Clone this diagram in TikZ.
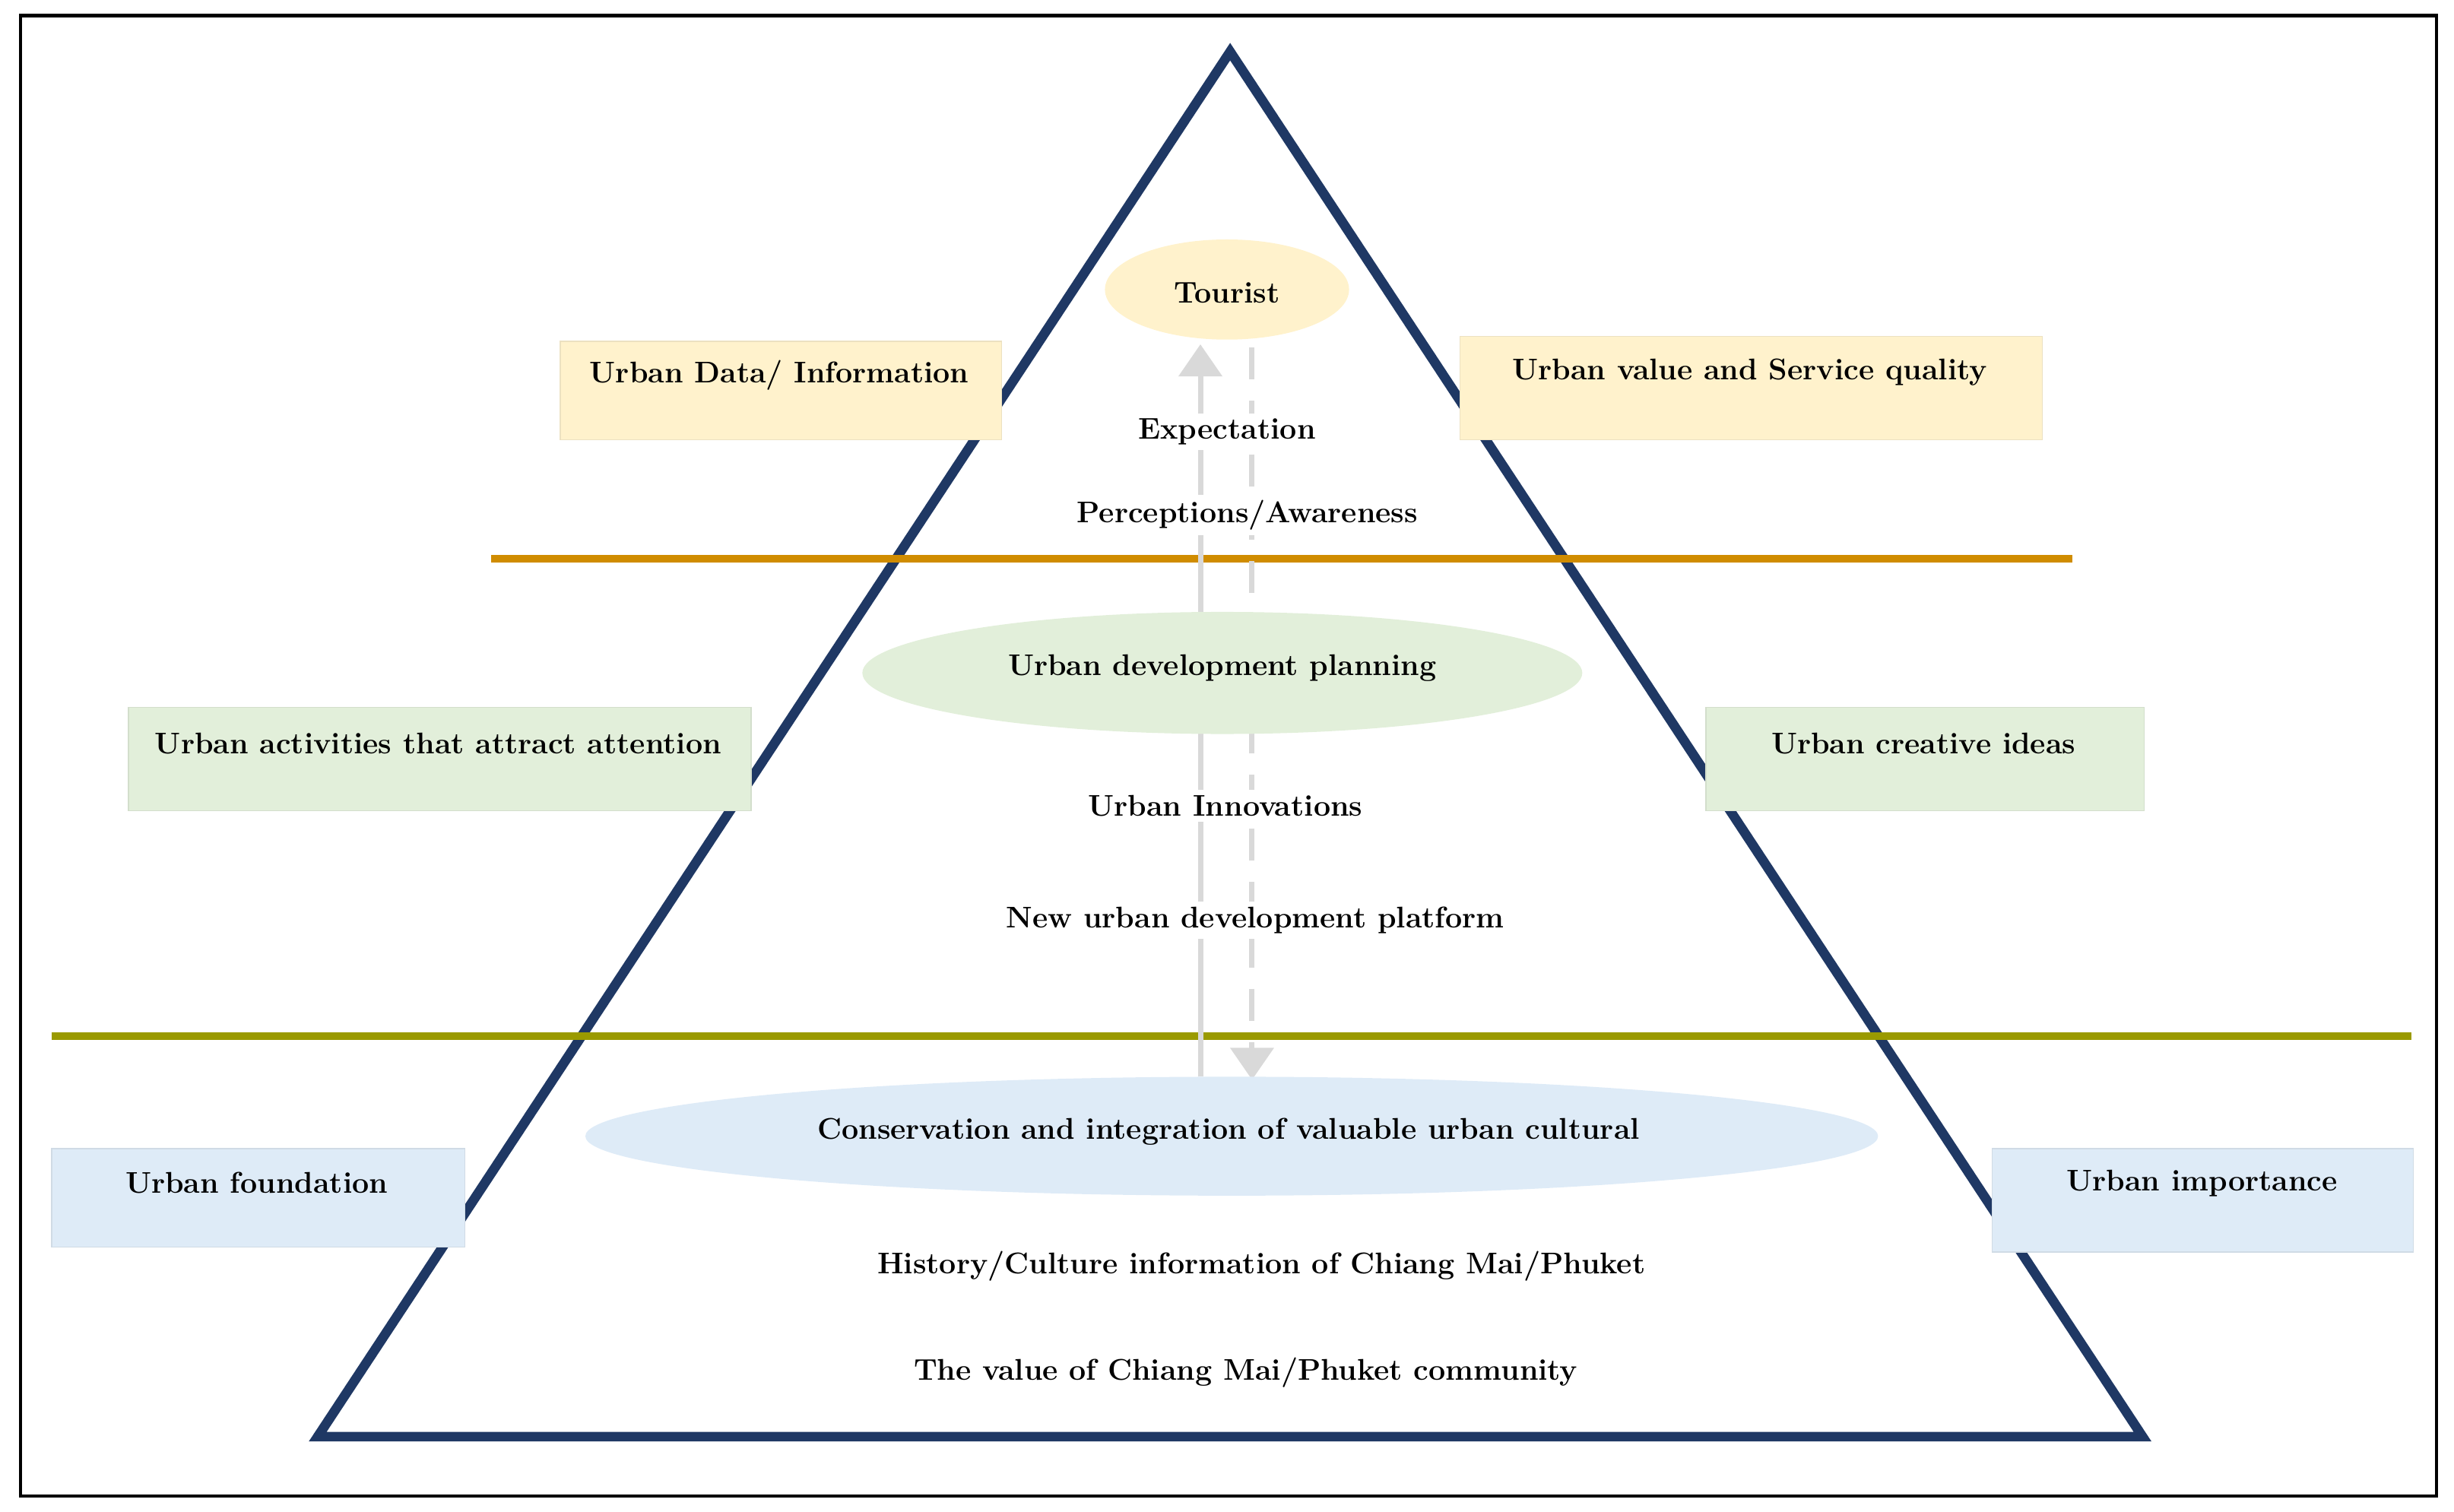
\documentclass[tikz,border=0pt]{standalone}
\usetikzlibrary{arrows.meta,shapes.geometric}
\definecolor{navy}{HTML}{1F3864}
\definecolor{ochre}{HTML}{D08C00}
\definecolor{olive}{HTML}{9A9A00}
\definecolor{pyellow}{HTML}{FFF2CC}
\definecolor{pgreen}{HTML}{E2EFDA}
\definecolor{pblue}{HTML}{DEEBF7}
\begin{document}
\begin{tikzpicture}[x=0.020587cm, y=-0.020587cm]

    % Define styles
    \tikzset{
        lbl/.style = {font=\fontsize{11.2}{13}\selectfont\bfseries, inner sep=2pt},
        box/.style = {rectangle, draw=#1!85!gray, fill=#1, line width=0.4pt},
        blob/.style = {ellipse, fill=#1, inner sep=0pt},
        flow/.style = {draw=gray!30, line width=2pt, -{Triangle[length=12pt,width=16pt]}}
    }

    \useasboundingbox (0,0) rectangle (1568,966);
    \draw [line width=1.2pt] (13,10) rectangle (1557,956);

    % Pyramid
    \coordinate (apex) at (786,33);
    \coordinate (bl) at (203,918);
    \coordinate (br) at (1369,918);
    \draw [navy, line width=3.6pt, line join=miter] (apex) -- (br) -- (bl) -- cycle;

    % Level lines
    \coordinate (o1) at (314,357); \coordinate (o2) at (1324,357);
    \coordinate (g1) at (33,662); \coordinate (g2) at (1541,662);
    \draw [ochre, line width=3pt] (o1) -- (o2);
    \draw [olive, line width=3pt] (g1) -- (g2);

    % Flow arrows
    \coordinate (up0) at (767,688); \coordinate (up1) at (767,220);
    \coordinate (dn0) at (800,222); \coordinate (dn1) at (800,690);
    \path [flow] (up0) -- (up1);
    \path [flow, dash pattern=on 12pt off 8pt] (dn0) -- (dn1);

    % Ellipses
    \node [blob=pyellow, minimum width=156*0.020587cm, minimum height=64*0.020587cm] (tourist) at (784,185) {};
    \node [blob=pgreen, minimum width=460*0.020587cm, minimum height=78*0.020587cm] (plan) at (781,430) {};
    \node [blob=pblue, minimum width=826*0.020587cm, minimum height=76*0.020587cm] (cons) at (787,726) {};

    % Side boxes
    \draw [box=pyellow] (358,218) rectangle (640,281);
    \draw [box=pyellow] (933,215) rectangle (1305,281);
    \draw [box=pgreen] (82,452) rectangle (480,518);
    \draw [box=pgreen] (1090,452) rectangle (1370,518);
    \draw [box=pblue] (33,734) rectangle (297,797);
    \draw [box=pblue] (1273,734) rectangle (1542,800);

    % Labels
    \node [lbl] (tlbl) at (784,187) {Tourist};
    \node [lbl] (data) at (498,240) {Urban Data/ Information};
    \node [lbl] (value) at (1118,238) {Urban value and Service quality};
    \node [lbl, fill=white] (expect) at (784,276) {Expectation};
    \node [lbl, fill=white] (percep) at (797,329) {Perceptions/Awareness};
    \node [lbl] (plbl) at (781,427) {Urban development planning};
    \node [lbl] (activ) at (280,475) {Urban activities that attract attention};
    \node [lbl] (creat) at (1229,475) {Urban creative ideas};
    \node [lbl, fill=white] (innov) at (783,515) {Urban Innovations};
    \node [lbl, fill=white] (platf) at (802,588) {New urban development platform};
    \node [lbl] (clbl) at (785,723) {Conservation and integration of valuable urban cultural};
    \node [lbl] (found) at (164,756) {Urban foundation};
    \node [lbl] (import) at (1407,756) {Urban importance};
    \node [lbl] (hist) at (806,809) {History/Culture information of Chiang Mai/Phuket};
    \node [lbl] (comm) at (796,877) {The value of Chiang Mai/Phuket community};

\end{tikzpicture}
\end{document}
